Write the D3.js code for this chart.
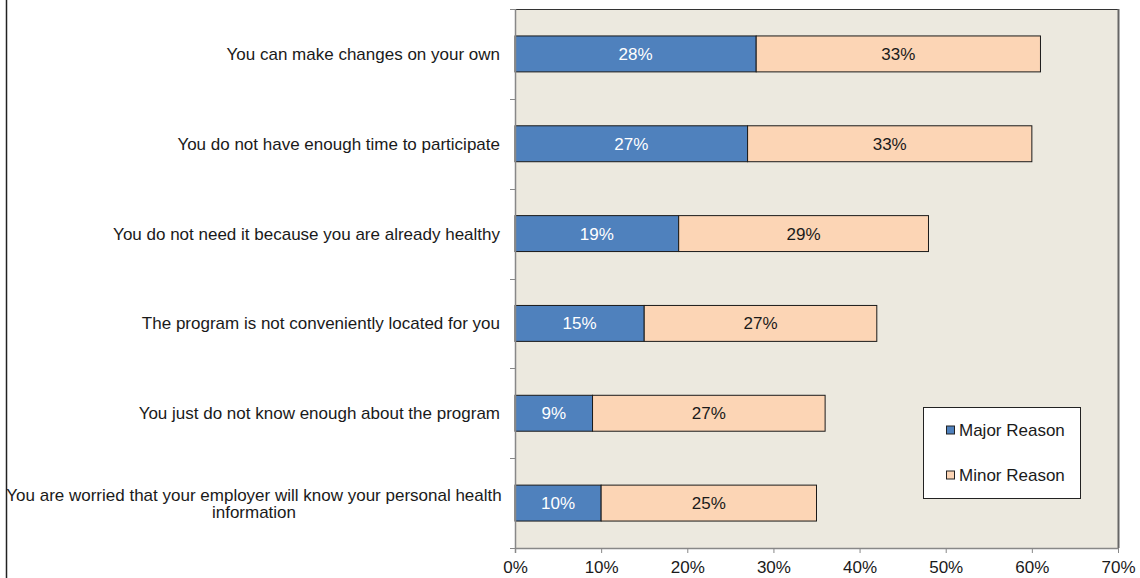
<!DOCTYPE html>
<html>
<head>
<meta charset="utf-8">
<script src="https://cdn.jsdelivr.net/npm/d3@7"></script>
<style>
  body { margin: 0; background: #fff; }
  svg { display: block; font-family: "Liberation Sans", Arial, sans-serif; }
</style>
</head>
<body>
<svg id="chart" width="1140" height="578"></svg>
<script>
// reasons (top to bottom) and the two series
var categories = [
  "You can make changes on your own",
  "You do not have enough time to participate",
  "You do not need it because you are already healthy",
  "The program is not conveniently located for you",
  "You just do not know enough about the program",
  "You are worried that your employer will know your personal health information"
];
var major = [28, 27, 19, 15, 9, 10];
var minor = [33, 33, 29, 27, 27, 25];
var seriesNames = ["Major Reason", "Minor Reason"];
var xTicks = [0, 10, 20, 30, 40, 50, 60, 70];

var svg = d3.select("#chart");
var plotL = 515, plotR = 1118, plotT = 9, plotB = 548;
var fs = 17;

var x = d3.scaleLinear().domain([0, 70]).range([plotL, plotR]);
var y = d3.scaleBand().domain(categories).range([plotT, plotB]).paddingInner(0.6).paddingOuter(0.3);
var band = d3.scaleBand().domain(categories).range([plotT, plotB]);

// outer chart frame (only left edge shows)
svg.append("line")
  .attr("x1", 6.5).attr("x2", 6.5).attr("y1", 0).attr("y2", 578)
  .attr("stroke", "#222").attr("stroke-width", 1.5);

// plot background
svg.append("rect")
  .attr("x", plotL).attr("y", plotT)
  .attr("width", plotR - plotL).attr("height", plotB - plotT)
  .attr("fill", "#ECE9DF");

// plot border: dark top, grey right
svg.append("line")
  .attr("x1", plotL).attr("x2", plotR).attr("y1", plotT + 0.5).attr("y2", plotT + 0.5)
  .attr("stroke", "#333").attr("stroke-width", 1);
svg.append("line")
  .attr("x1", plotR + 0.5).attr("x2", plotR + 0.5).attr("y1", plotT).attr("y2", plotB)
  .attr("stroke", "#666").attr("stroke-width", 2);

var rows = categories.map(function(c, i) {
  return { cat: c, major: major[i], minor: minor[i] };
});

var g = svg.append("g");

// major segments
g.selectAll("rect.major")
  .data(rows)
  .enter().append("rect")
  .attr("class", "major")
  .attr("x", x(0))
  .attr("y", function(d) { return y(d.cat); })
  .attr("width", function(d) { return x(d.major) - x(0); })
  .attr("height", y.bandwidth())
  .attr("fill", "#4F81BD")
  .attr("stroke", "#1a1a1a").attr("stroke-width", 1);

// minor segments
g.selectAll("rect.minor")
  .data(rows)
  .enter().append("rect")
  .attr("class", "minor")
  .attr("x", function(d) { return x(d.major); })
  .attr("y", function(d) { return y(d.cat); })
  .attr("width", function(d) { return x(d.major + d.minor) - x(d.major); })
  .attr("height", y.bandwidth())
  .attr("fill", "#FCD5B5")
  .attr("stroke", "#1a1a1a").attr("stroke-width", 1);

// value labels
g.selectAll("text.majorLab")
  .data(rows)
  .enter().append("text")
  .attr("x", function(d) { return (x(0) + x(d.major)) / 2; })
  .attr("y", function(d) { return y(d.cat) + y.bandwidth() / 2; })
  .attr("dy", "0.35em")
  .attr("text-anchor", "middle")
  .attr("font-size", fs)
  .attr("fill", "#fff")
  .text(function(d) { return d.major + "%"; });

g.selectAll("text.minorLab")
  .data(rows)
  .enter().append("text")
  .attr("x", function(d) { return (x(d.major) + x(d.major + d.minor)) / 2; })
  .attr("y", function(d) { return y(d.cat) + y.bandwidth() / 2; })
  .attr("dy", "0.35em")
  .attr("text-anchor", "middle")
  .attr("font-size", fs)
  .attr("fill", "#1a1a1a")
  .text(function(d) { return d.minor + "%"; });

// x axis
var xAxis = svg.append("g")
  .attr("transform", "translate(0," + plotB + ")")
  .call(d3.axisBottom(x).tickValues(xTicks).tickFormat(function(d) { return d + "%"; }).tickSize(5).tickSizeOuter(0).tickPadding(8));
xAxis.select(".domain").attr("stroke", "#888").attr("stroke-width", 1.5);
xAxis.selectAll(".tick line").attr("stroke", "#888");
xAxis.selectAll("text").attr("font-size", fs).attr("fill", "#1a1a1a").attr("font-family", "Liberation Sans, Arial, sans-serif");

// y axis: ticks at category boundaries
var yAxisG = svg.append("g");
yAxisG.append("line")
  .attr("x1", plotL + 0.5).attr("x2", plotL + 0.5).attr("y1", plotT).attr("y2", plotB + 5)
  .attr("stroke", "#888").attr("stroke-width", 1.5);
var bounds = categories.map(function(c) { return band(c); }).concat([plotB]);
yAxisG.selectAll("line.tk")
  .data(bounds)
  .enter().append("line")
  .attr("class", "tk")
  .attr("x1", plotL - 5).attr("x2", plotL)
  .attr("y1", function(d) { return Math.round(d) + 0.5; })
  .attr("y2", function(d) { return Math.round(d) + 0.5; })
  .attr("stroke", "#888");

// category labels, wrapped when too long
var maxW = 500;
categories.forEach(function(c) {
  var cy = y(c) + y.bandwidth() / 2;
  var t = svg.append("text")
    .attr("font-size", fs).attr("fill", "#1a1a1a");
  var words = c.split(" "), lines = [], cur = "";
  var probe = t.append("tspan");
  words.forEach(function(w) {
    var test = cur ? cur + " " + w : w;
    probe.text(test);
    if (probe.node().getComputedTextLength() > maxW && cur) {
      lines.push(cur); cur = w;
    } else cur = test;
  });
  lines.push(cur);
  probe.remove();
  var lh = 17;
  if (lines.length === 1) {
    t.attr("text-anchor", "end");
    t.append("tspan").attr("x", 500).attr("y", cy).attr("dy", "0.35em").text(lines[0]);
  } else {
    t.attr("text-anchor", "middle");
    lines.forEach(function(l, i) {
      t.append("tspan").attr("x", 254)
        .attr("y", cy + (i - (lines.length - 1) / 2) * lh)
        .attr("dy", "0.35em").text(l);
    });
  }
});

// legend
var lg = svg.append("g").attr("transform", "translate(923.5,407.5)");
lg.append("rect").attr("width", 157).attr("height", 91)
  .attr("fill", "#fff").attr("stroke", "#222").attr("stroke-width", 1);
var colors = ["#4F81BD", "#FCD5B5"];
seriesNames.forEach(function(s, i) {
  var yy = 23 + i * 45;
  lg.append("rect").attr("x", 23).attr("y", yy - 4.5).attr("width", 8).attr("height", 8)
    .attr("fill", colors[i]).attr("stroke", "#222").attr("stroke-width", 1);
  lg.append("text").attr("x", 35.5).attr("y", yy).attr("dy", "0.35em")
    .attr("font-size", fs).attr("fill", "#1a1a1a").text(s);
});
</script>
</body>
</html>
